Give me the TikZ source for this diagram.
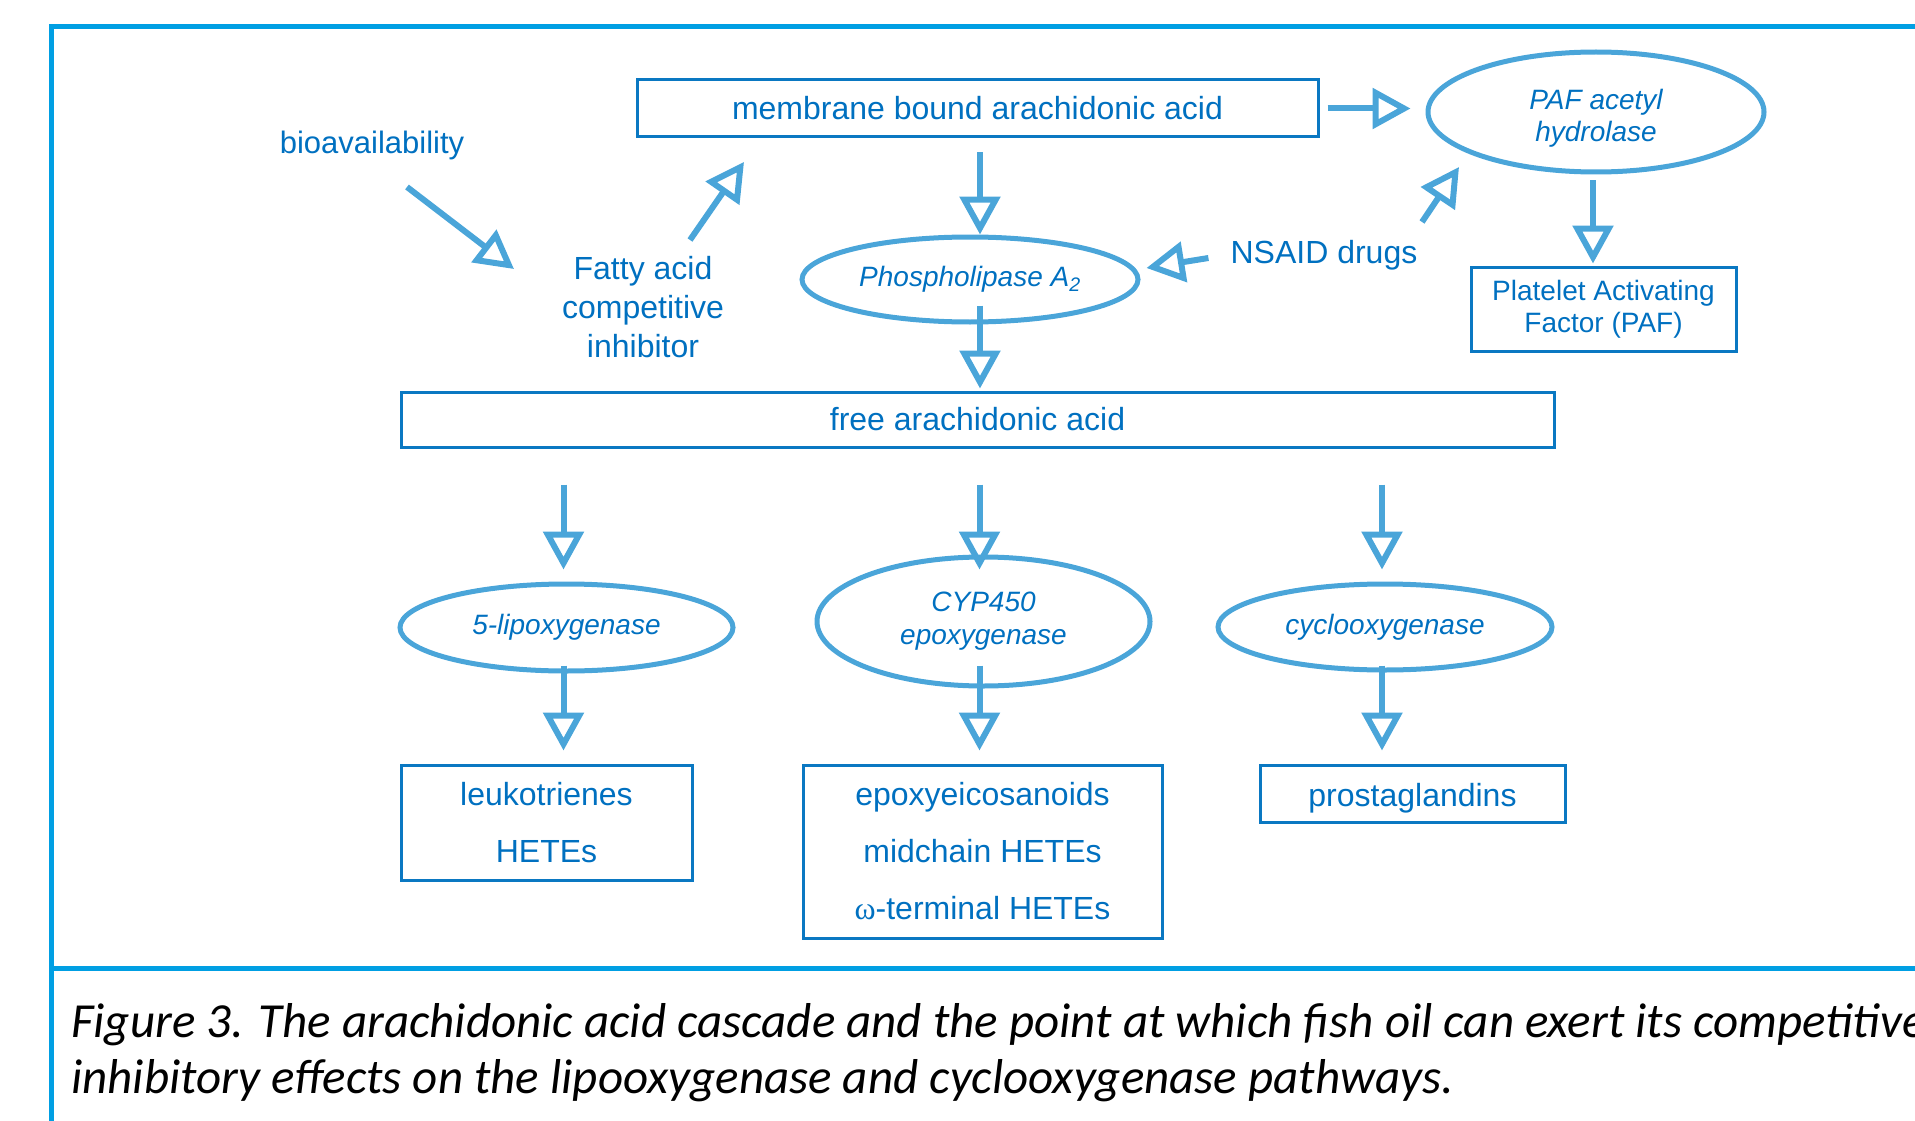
\documentclass[tikz,border=0pt]{standalone}
\usepackage{fontspec}
\setmainfont{Liberation Sans}
\newfontfamily\capfont{Carlito}
\newfontfamily\symfont{Liberation Serif}
\usepackage{tikz}
\usetikzlibrary{positioning,arrows.meta,shapes.geometric,calc}
\usepackage{xcolor}
\definecolor{txtblue}{HTML}{0070C0}
\definecolor{boxblue}{HTML}{0A78C2}
\definecolor{arrowblue}{HTML}{4AA5D9}
\definecolor{framecyan}{HTML}{009FE3}

\begin{document}
\begin{tikzpicture}[x=1pt,y=-1pt,>={Triangle[open,length=38pt,width=40pt]},
  box/.style={draw=boxblue,line width=3pt,inner sep=0pt,text=txtblue,align=center,font=\fontsize{32}{57}\selectfont},
  ell/.style={ellipse,draw=arrowblue,line width=5pt,inner sep=0pt,text=txtblue,align=center,font=\fontsize{28}{33}\selectfont\itshape},
  lbl/.style={inner sep=0pt,text=txtblue,align=center,font=\fontsize{32}{39}\selectfont},
  arr/.style={->,draw=arrowblue,line width=6pt}]
\useasboundingbox (0,0) rectangle (1915,1121);
% frame and caption
\draw[framecyan,line width=5pt] (1930,27) -- (51,27) -- (51,1130);
\draw[framecyan,line width=5pt] (51,968) -- (1930,968);
\node[anchor=base west,inner sep=0pt,font=\fontsize{49}{59}\capfont\itshape] (cap1) at (71,1037) {Figure 3. The arachidonic acid cascade and the point at which fish oil can exert its competitive};
\node[anchor=base west,inner sep=0pt,font=\fontsize{49}{59}\capfont\itshape] (cap2) at (71,1093) {inhibitory effects on the lipooxygenase and cyclooxygenase pathways.};
% upper part
\node[box,minimum width=681pt,minimum height=57pt] (memb) at (977.5,108.5) {membrane bound arachidonic acid};
\node[ell,minimum width=336pt,minimum height=120pt] (paf) at (1596,112) {\raisebox{-7pt}[\height][\depth]{\begin{tabular}{@{}c@{}}PAF acetyl\\[-1pt]hydrolase\end{tabular}}};
\node[ell,minimum width=336pt,minimum height=85pt] (pla) at (970,279.5) {Phospholipase A\textsubscript{2}};
\node[box,minimum width=265pt,minimum height=84pt,font=\fontsize{28}{32}\selectfont] (plat) at (1603.5,309) {Platelet Activating\\Factor (PAF)};
\node[lbl,font=\fontsize{31}{37}\selectfont] (bio) at (372,145) {bioavailability};
\node[lbl] (fatty) at (643,307) {Fatty acid\\competitive\\inhibitor};
\node[lbl] (nsaid) at (1324,255) {NSAID drugs};
\node[box,minimum width=1153pt,minimum height=55pt] (free) at (977.5,419.5) {free arachidonic acid};
% enzymes and products
\node[ell,minimum width=333pt,minimum height=87pt] (lipo) at (566.5,627.5) {5-lipoxygenase};
\node[ell,minimum width=333pt,minimum height=129pt] (cyp) at (983.5,621.5) {CYP450\\epoxygenase};
\node[ell,minimum width=334pt,minimum height=86pt] (cyclo) at (1385,627) {cyclooxygenase};
\node[box,minimum width=291pt,minimum height=115pt] (leuk) at (546.5,822.5) {leukotrienes\\HETEs};
\node[box,minimum width=359pt,minimum height=173pt] (epoxy) at (982.5,851.5) {epoxyeicosanoids\\midchain HETEs\\{\symfont ω}-terminal HETEs};
\node[box,minimum width=305pt,minimum height=57pt] (prost) at (1412.5,793.5) {\raisebox{-5pt}[\height][\depth]{prostaglandins}};
% arrows
\draw[arr] ($(bio)+(35,42)$) -- ($(fatty)+(-129,-38)$);
\draw[arr] ($(fatty)+(47,-67)$) -- ($(memb)+(-233.5,53.5)$);
\draw[arr] ($(memb.east)+(8,0)$) -- ($(memb.east -| paf.west)+(-15,0)$);
\draw[arr] ($(memb.south)+(2.5,14)$) -- ($(pla.north)+(10,0)$);
\draw[arr] ($(nsaid.west)+(-22,3)$) -- ($(pla.east)+(6,-11.5)$);
\draw[arr] ($(nsaid)+(98,-33)$) -- ($(paf)+(-137,55)$);
\draw[arr] ($(paf.south)+(-3,6)$) -- ($(plat.north)+(-10.5,-2)$);
\draw[arr] ($(pla.south)+(10,-19)$) -- ($(free.north)+(2.5,-2)$);
\draw[arr] ($(free.south -| lipo)+(-3,36)$) -- ($(lipo.north)+(-3,-12)$);
\draw[arr] ($(free.south -| cyp)+(-4,36)$) -- ($(cyp.north)+(-4,15)$);
\draw[arr] ($(free.south -| cyclo)+(-3,36)$) -- ($(cyclo.north)+(-3,-12)$);
\draw[arr] ($(lipo.south)+(-3,-8)$) -- ($(lipo.south |- leuk.north)+(-3,-13)$);
\draw[arr] ($(cyp.south)+(-4,-23)$) -- ($(cyp.south |- epoxy.north)+(-4,-13)$);
\draw[arr] ($(cyclo.south)+(-3,-7)$) -- ($(cyclo.south |- prost.north)+(-3,-13)$);
\end{tikzpicture}
\end{document}
